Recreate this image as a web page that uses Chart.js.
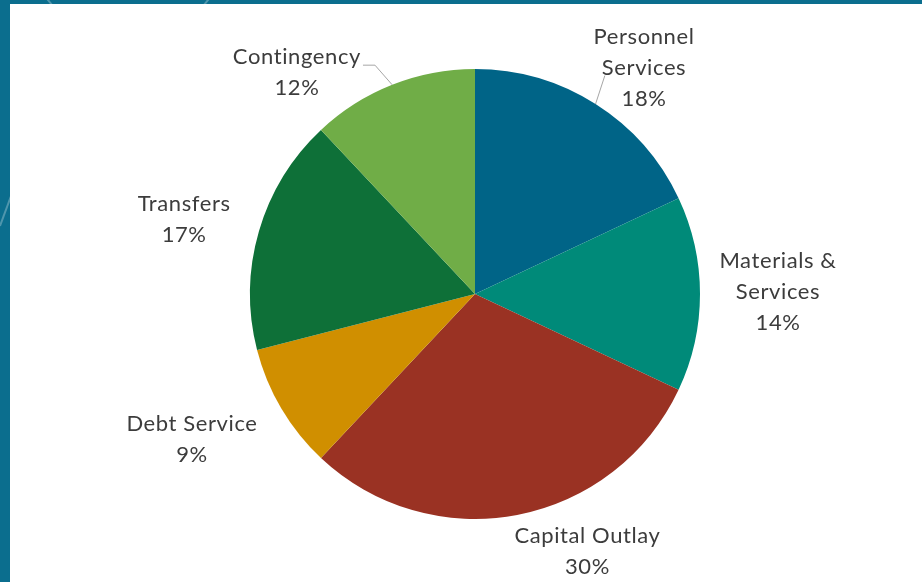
<!DOCTYPE html>
<html>
<head>
<meta charset="utf-8">
<title>Budget by Category</title>
<script src="https://cdn.jsdelivr.net/npm/chart.js@4.4.1/dist/chart.umd.min.js"></script>
<style>
  html, body { margin: 0; padding: 0; background: #0b6e8e; }
  #wrap { width: 922px; height: 582px; }
</style>
</head>
<body>
<div id="wrap"><canvas id="pie" width="922" height="582"></canvas></div>
<script>
// budget split, percent of total
const categories = ['Personnel Services', 'Materials & Services', 'Capital Outlay', 'Debt Service', 'Transfers', 'Contingency'];
const shares = [18, 14, 30, 9, 17, 12];
const labelLines = [['Personnel', 'Services'], ['Materials &', 'Services'], ['Capital Outlay'], ['Debt Service'], ['Transfers'], ['Contingency']];
const sliceColors = ['#006487', '#008a79', '#9a3223', '#d08f00', '#0e7038', '#70ad47'];

// label placement tweaks (px) off the default spot outside each slice
const labelNudge = [[19, 10], [23, -2], [60, -18], [-42, 3], [-22, 4], [-75, 39]];
const leaderSide = { 0: 'left', 5: 'right' };

const FONT = '22px Lato, "Liberation Sans", sans-serif';
const LINE_H = 31;

// teal slide frame with the white panel on top
const slideBackground = {
  id: 'slideBackground',
  beforeDraw(chart) {
    const ctx = chart.ctx;
    ctx.save();
    ctx.fillStyle = '#0b6e8e';
    ctx.fillRect(0, 0, chart.width, chart.height);
    ctx.strokeStyle = 'rgba(255,255,255,0.28)';
    ctx.lineWidth = 2;
    ctx.beginPath();
    ctx.arc(128, -60, 100, 0, Math.PI);
    ctx.stroke();
    ctx.beginPath();
    ctx.moveTo(0, 226);
    ctx.lineTo(14, 188);
    ctx.stroke();
    ctx.fillStyle = '#ffffff';
    ctx.fillRect(10, 4, chart.width - 10, chart.height - 4);
    ctx.restore();
  }
};

// outside-end labels with category and percent, plus leader lines
const sliceLabels = {
  id: 'sliceLabels',
  afterDraw(chart) {
    const ctx = chart.ctx;
    const arcs = chart.getDatasetMeta(0).data;
    ctx.save();
    ctx.font = FONT;
    ctx.letterSpacing = '0.6px';
    ctx.fillStyle = '#3c3c3c';
    ctx.textAlign = 'center';
    ctx.textBaseline = 'middle';
    arcs.forEach(function(arc, i) {
      const p = arc.getProps(['x', 'y', 'startAngle', 'endAngle', 'outerRadius'], true);
      const mid = (p.startAngle + p.endAngle) / 2;
      const d = p.outerRadius + 55;
      const cx = p.x + Math.cos(mid) * d + labelNudge[i][0];
      const cy = p.y + Math.sin(mid) * d + labelNudge[i][1];
      const lines = labelLines[i].concat([shares[i] + '%']);
      const top = cy - (lines.length - 1) / 2 * LINE_H;

      if (leaderSide[i]) {
        const ex = p.x + Math.cos(mid) * p.outerRadius;
        const ey = p.y + Math.sin(mid) * p.outerRadius;
        ctx.strokeStyle = '#a6a6a6';
        ctx.lineWidth = 1;
        ctx.beginPath();
        if (leaderSide[i] === 'right') {
          const right = cx + ctx.measureText(lines[0]).width / 2;
          const ly = top + 8;
          ctx.moveTo(right + 2, ly);
          ctx.lineTo(right + 14, ly);
          ctx.lineTo(ex, ey);
        } else {
          const left = cx - ctx.measureText(lines[1]).width / 2;
          const ly = top + LINE_H + 8;
          ctx.moveTo(left + 3, ly);
          ctx.lineTo(ex, ey);
        }
        ctx.stroke();
      }

      lines.forEach(function(t, k) {
        ctx.fillText(t, cx, top + k * LINE_H);
      });
    });
    ctx.restore();
  }
};

new Chart(document.getElementById('pie'), {
  type: 'pie',
  data: {
    labels: categories,
    datasets: [{
      data: shares,
      backgroundColor: sliceColors,
      borderWidth: 0
    }]
  },
  options: {
    responsive: false,
    animation: false,
    layout: { padding: { left: 250, right: 222, top: 69, bottom: 63 } },
    plugins: {
      legend: { display: false },
      tooltip: { enabled: false }
    }
  },
  plugins: [slideBackground, sliceLabels]
});
</script>
</body>
</html>
